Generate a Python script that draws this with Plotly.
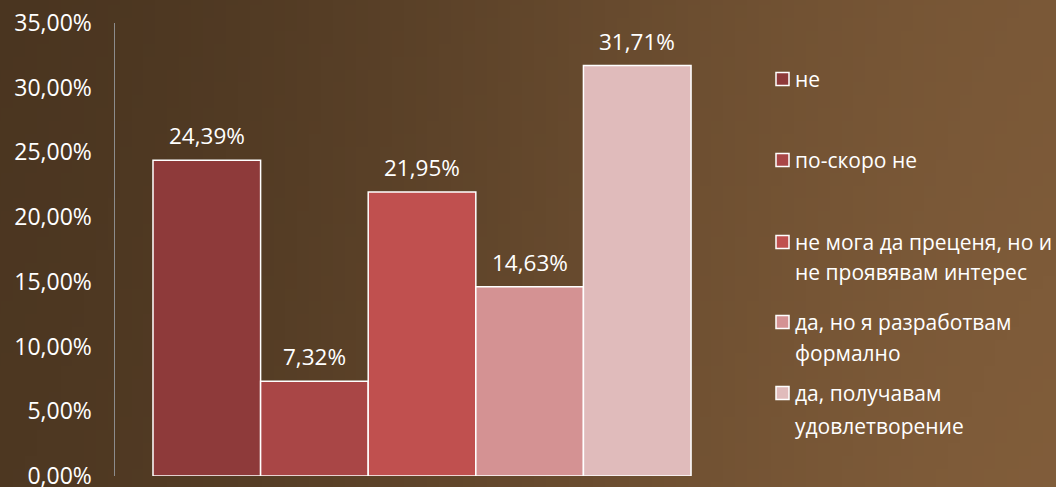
import base64, struct, zlib
import plotly.graph_objects as go

# ---- data ----
legend_lines = [
    ["не"],
    ["по-скоро не"],
    ["не мога да преценя, но и", "не проявявам интерес"],
    ["да, но я разработвам", "формално"],
    ["да, получавам", "удовлетворение"],
]
categories = [" ".join(l) for l in legend_lines]
values = [24.39, 7.32, 21.95, 14.63, 31.71]
colors = ["#8E3A3A", "#A94646", "#C0504F", "#D49293", "#E0BBBB"]
tick_vals = [0, 5, 10, 15, 20, 25, 30, 35]
tick_text = ["0,00%", "5,00%", "10,00%", "15,00%", "20,00%", "25,00%", "30,00%", "35,00%"]

W, H = 1056, 487
ML, MR, MT, MB = 115, 326, 23, 11
PW, PH = W - ML - MR, H - MT - MB


def make_png(w, h):
    rows = []
    for j in range(h):
        fy = j / (h - 1)
        row = bytearray()
        for i in range(w):
            fx = i / (w - 1)
            t = fx * fx * (3 - 2 * fx)
            r = 78 + (126 - 78) * t
            g = 56 + (91 - 56) * t
            b = 34 + (57 - 34) * t
            k = 1.0 + 0.06 * (fy - 0.5) * fx - 0.05 * (1 - fx) * (1 - fy)
            row += bytes([int(min(255, r * k)), int(min(255, g * k)), int(min(255, b * k))])
        rows.append(bytes(row))
    raw = b"".join(b"\x00" + r for r in rows)

    def chunk(tag, data):
        c = struct.pack(">I", len(data)) + tag + data
        return c + struct.pack(">I", zlib.crc32(tag + data) & 0xFFFFFFFF)

    png = b"\x89PNG\r\n\x1a\n" + chunk(b"IHDR", struct.pack(">IIBBBBB", w, h, 8, 2, 0, 0, 0))
    png += chunk(b"IDAT", zlib.compress(raw)) + chunk(b"IEND", b"")
    return "data:image/png;base64," + base64.b64encode(png).decode()


FONT = "Open Sans"
xs = list(range(len(values)))
labels = [f"{v:.2f}".replace(".", ",") + "%" for v in values]

fig = go.Figure()
fig.add_trace(go.Bar(
    x=xs, y=values, width=1,
    marker=dict(color=colors, line=dict(color="white", width=1.5)),
    hoverinfo="skip", showlegend=False,
))

annotations = []
for x, v, lab in zip(xs, values, labels):
    annotations.append(dict(x=x, y=v, text=lab, showarrow=False, yanchor="bottom",
                            yshift=7, font=dict(family=FONT, size=22.5, color="white")))

# manual legend
line_centers = [[79], [160], [242, 272], [322, 353], [393, 426]]
shapes = []
for lines, centers, col in zip(legend_lines, line_centers, colors):
    cy = centers[0]
    shapes.append(dict(type="rect", xref="paper", yref="paper",
                       x0=(776 - ML) / PW, x1=(789 - ML) / PW,
                       y0=(H - MB - (cy + 6.5)) / PH, y1=(H - MB - (cy - 6.5)) / PH,
                       fillcolor=col, line=dict(color="white", width=1.5)))
    for txt, c in zip(lines, centers):
        annotations.append(dict(xref="paper", yref="paper", x=(794 - ML) / PW,
                                y=(H - MB - c) / PH, xanchor="left", yanchor="middle",
                                text=txt, showarrow=False, borderpad=0,
                                font=dict(family=FONT, size=21, color="white")))

PAD = 40
fig.update_layout(
    width=W, height=H,
    margin=dict(l=ML, r=MR, t=MT, b=MB, autoexpand=False),
    paper_bgcolor="#65482e", plot_bgcolor="rgba(0,0,0,0)",
    bargap=0,
    showlegend=False,
    annotations=annotations,
    shapes=shapes,
    images=[dict(source=make_png(96, 44), xref="paper", yref="paper",
                 x=-(ML + PAD) / PW, y=1 + (MT + PAD) / PH,
                 sizex=(W + 2 * PAD) / PW, sizey=(H + 2 * PAD) / PH,
                 xanchor="left", yanchor="top", sizing="stretch", layer="below")],
    xaxis=dict(range=[-0.853, 4.862], showticklabels=False, showgrid=False,
               zeroline=False, showline=False, fixedrange=True, automargin=False),
    yaxis=dict(range=[0, 35], tickvals=tick_vals, ticktext=tick_text,
               showgrid=False, zeroline=False, showline=True, linecolor="#8c8c8c",
               linewidth=1.5, ticks="", ticklabelstandoff=17, ticklabeloverflow="allow",
               automargin=False,
               tickfont=dict(family=FONT, size=23, color="white"), fixedrange=True),
)

fig.write_html("out.html", config={"displayModeBar": False, "staticPlot": True},
               post_script="document.body.style.margin='0';document.body.style.overflow='hidden';")
